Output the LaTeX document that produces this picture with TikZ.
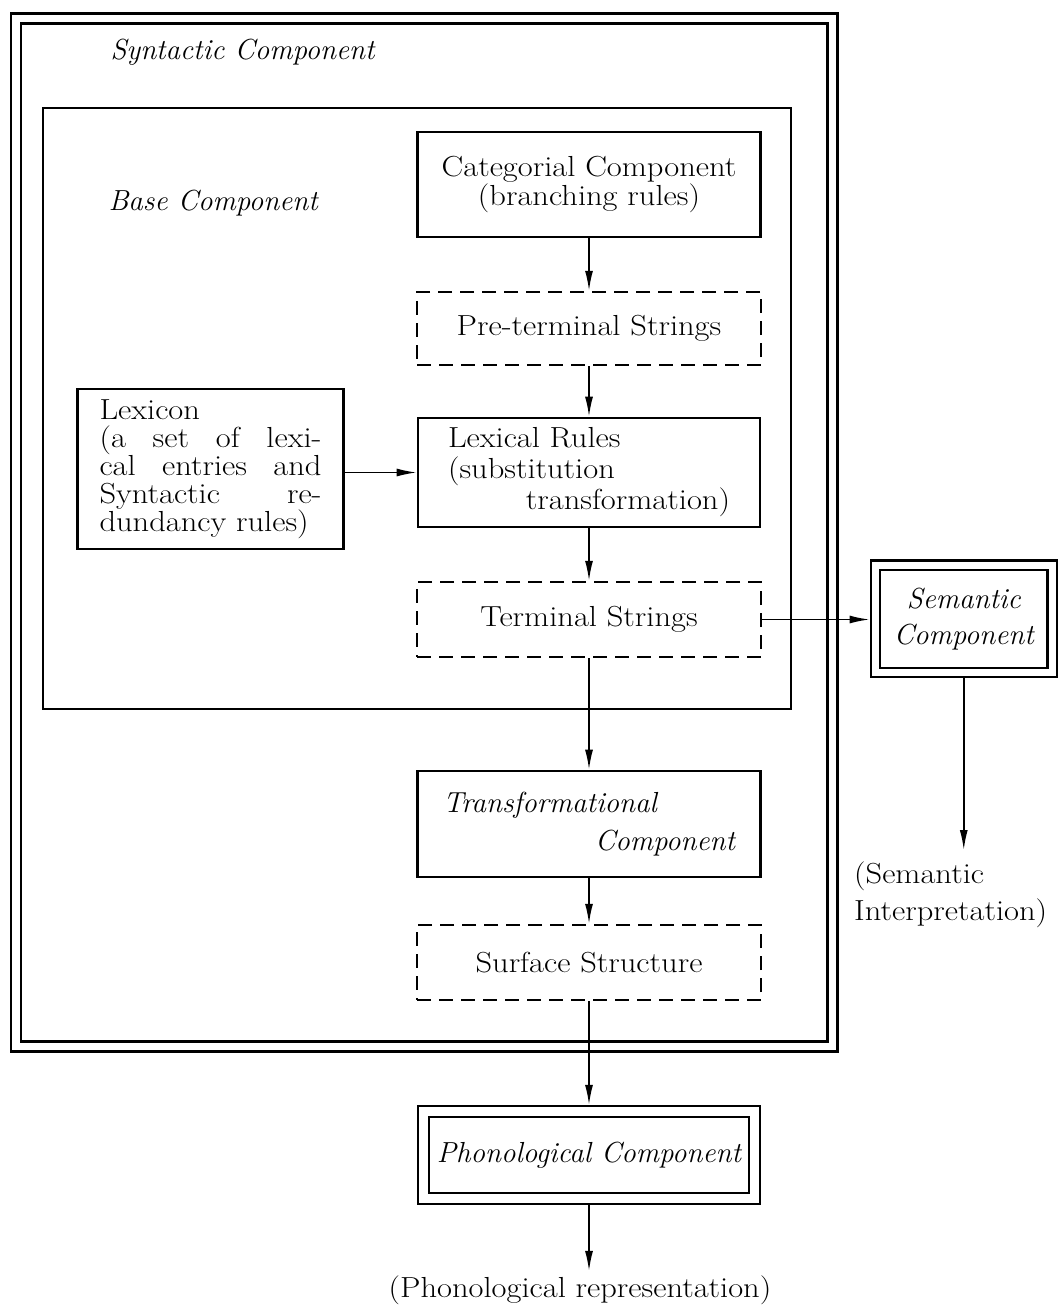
\documentclass[tikz,border=0pt]{standalone}
\usepackage{fontspec}
\setmainfont{Latin Modern Roman}[UprightFeatures={FakeStretch=1.12}]
\usetikzlibrary{arrows.meta}

\tikzset{every picture/.style={line width=2.4pt}}
\tikzset{
  txt/.style={font=\fontsize{29}{#1}\selectfont},
  txt/.default=27,
  box/.style={draw, line width=2.6pt, inner sep=0pt, align=center},
  dashbox/.style={box, line width=2.4pt, dash pattern=on 14pt off 8pt},
  dblbox/.style={draw, double, line width=2.4pt, double distance=#1, inner sep=0pt, align=center},
  dblbox/.default=8pt,
  arr/.style={line width=1.7pt, -{Latex[length=20pt,width=8pt]}},
}

\begin{document}
\begin{tikzpicture}[x=1pt,y=1pt,yscale=-1,xscale=1]
\useasboundingbox (0,0) rectangle (1060,1313);

%Shape: Double Rectangle
\draw [double, double distance=7.5pt, line width=2.6pt] (16,18.5) rectangle (832.5,1046.5) ;
%Shape: Rectangle
\draw [line width=2.4pt] (43,108) rectangle (791,709) ;

% Text Node
\node (synlbl) [anchor=west, txt] at (106,52) {\itshape Syntactic Component};
% Text Node
\node (baselbl) [anchor=west, txt] at (104,203) {\itshape Base Component};

%Shape: Rectangle
\node (cat) [box, txt, minimum width=343pt, minimum height=105pt] at (589,184.5) {Categorial Component\\(branching rules)};
%Shape: Rectangle
\node (pre) [dashbox, txt, minimum width=344pt, minimum height=73pt] at (589,328.5) {Pre-terminal Strings};
%Shape: Rectangle
\node (lex) [box, txt=28, minimum width=266pt, minimum height=160pt, text width=222pt, align=justify] at (210.5,469) {Lexicon\\(a set of lexi-\linebreak cal entries and\linebreak Syntactic re-\linebreak dundancy rules)};
%Shape: Rectangle
\node (rules) [box, txt=31, minimum width=342pt, minimum height=109pt, text width=282pt, align=left] at (589,472.5) {Lexical Rules\\(substitution\\\makebox[\linewidth][r]{transformation)}};
%Shape: Rectangle
\node (term) [dashbox, txt, minimum width=344pt, minimum height=75pt] at (589,619.5) {Terminal Strings};
%Shape: Double Rectangle
\node (sem) [dblbox=7pt, outer sep=5.9pt, txt=36, minimum width=176.5pt, minimum height=107.5pt] at (963.75,618.75) {\itshape Semantic\\\itshape Component};
%Shape: Rectangle
\node (trans) [box, txt=38, minimum width=343pt, minimum height=106pt, text width=292pt, align=left] at (589,824) {\itshape Transformational\\\makebox[\linewidth][r]{\itshape Component}};
%Shape: Rectangle
\node (surf) [dashbox, txt, minimum width=344pt, minimum height=75pt] at (589,962.5) {Surface Structure};
%Shape: Double Rectangle
\node (phon) [dblbox=8.5pt, outer sep=6.6pt, txt, minimum width=331pt, minimum height=87pt] at (589,1155) {\itshape Phonological Component};

% Text Node
\node (interp) [anchor=north west, txt=37, align=left, inner sep=0pt] at (853,861) {(Semantic\\Interpretation)};
% Text Node
\node (phonrep) [txt] at (580,1290) {(Phonological representation)};
\coordinate (semend) at (963.75,850);

%Straight Lines
\draw [arr] (cat) -- (pre) ;
\draw [arr] (pre) -- (rules) ;
\draw [arr] (lex.east |- rules.west) -- (rules.west) ;
\draw [arr] (rules) -- (term) ;
\draw [arr] (term.east) -- (sem.west |- term.east) ;
\draw [arr] (sem) -- (semend) ;
\draw [arr] (term) -- (trans) ;
\draw [arr] (trans) -- (surf) ;
\draw [arr] (surf) -- (phon) ;
\draw [arr] (phon.south) -- (phon.south |- phonrep.north) ;

\end{tikzpicture}
\end{document}
